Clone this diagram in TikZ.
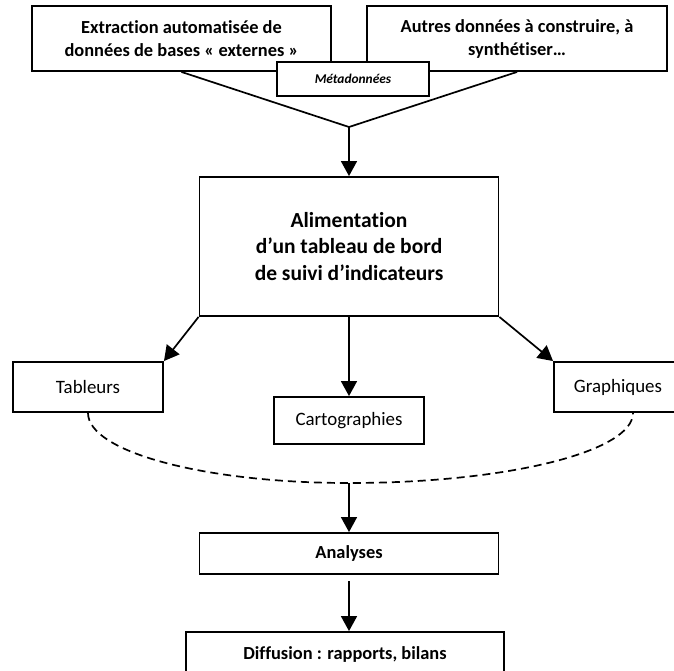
\documentclass[tikz,border=0pt]{standalone}
\usepackage{fontspec}
\setmainfont{Carlito}[Ligatures=NoCommon]
\usetikzlibrary{arrows.meta}

\begin{document}
\begin{tikzpicture}[x=1pt, y=-1pt,
    box/.style={draw, line width=1.9pt, fill=white, align=center, inner sep=2pt},
    boldtxt/.style={font=\bfseries\fontsize{18.4}{23}\selectfont},
    plaintxt/.style={font=\fontsize{18.9}{22}\selectfont},
    arr/.style={line width=1.7pt, -{Triangle[length=15pt,width=16pt]}}]
    \useasboundingbox (0,0) rectangle (674,670);

    \node[box, boldtxt, minimum width=299pt, minimum height=65pt] (ext) at (181.5,38.5) {Extraction automatisée de\\données de bases «~externes~»};
    \node[box, boldtxt, minimum width=300pt, minimum height=65pt] (aut) at (517,38.5) {Autres données à construire, à\\synthétiser…};
    \node[box, minimum width=152pt, minimum height=34pt, font=\bfseries\itshape\fontsize{13.4}{16}\selectfont] (meta) at (353,79) {Métadonnées};

    \node[box, minimum width=299pt, minimum height=139pt, font=\bfseries\fontsize{21.5}{26.5}\selectfont] (alim) at (349,246.5) {Alimentation\\d’un tableau de bord\\de suivi d’indicateurs};

    \node[box, plaintxt, minimum width=150pt, minimum height=50pt] (tab) at (88,387) {Tableurs};
    \node[box, plaintxt, minimum width=150pt, minimum height=47pt] (carto) at (349,420.5) {Cartographies};
    \node[box, plaintxt, minimum width=128pt, minimum height=50pt] (gra) at (618,387) {Graphiques};

    \node[box, boldtxt, minimum width=299pt, minimum height=41pt] (ana) at (349,553.5) {Analyses};
    \node[box, boldtxt, minimum width=318pt, minimum height=44pt] (dif) at (345,654) {Diffusion : rapports, bilans};

    \coordinate (vtx) at (349,127);
    \coordinate (dip) at (349,483);
    \coordinate (gap) at (349,581);

    \draw[line width=1.7pt] (ext.south) -- (vtx) -- (aut.south);
    \draw[arr] (vtx) -- (alim.north);

    \draw[arr] (alim.south west) -- (tab.north east);
    \draw[arr] (alim.south) -- (carto.north);
    \draw[arr] (alim.south east) -- (gra.north west);

    \draw[line width=1.7pt, dash pattern=on 8pt off 5pt] (tab.south) .. controls +(0,39) and +(-144,0) .. (dip) .. controls +(157,0) and +(0,39) .. ([xshift=15pt]gra.south);

    \draw[arr] (dip) -- (ana.north);
    \draw[arr] (gap) -- (gap |- dif.north);
\end{tikzpicture}
\end{document}
